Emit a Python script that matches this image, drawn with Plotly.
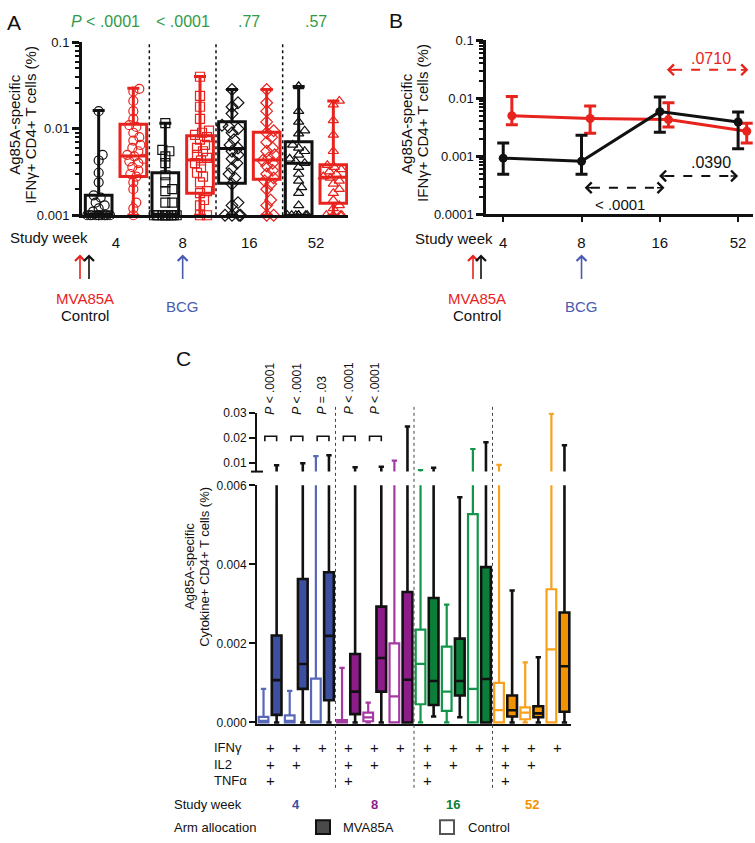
import math
import plotly.graph_objects as go

W, H = 755, 843
def px(x): return x / W
def py(y): return 1 - y / H

FONT = "Liberation Sans, Arial, Helvetica, sans-serif"
RED = "#e8231e"
BLACK = "#111111"
GREENP = "#2f9a4a"
BLUE_LBL = "#4a5ab0"

# ---------------- Panel A data ----------------
weeks = ["4", "8", "16", "52"]
a_pvalues = ["<i>P</i> < .0001", "< .0001", ".77", ".57"]

a_ctrl_w4 = [0.1, 0.016, 0.005, 0.0043, 0.0031, 0.0024, 0.0017, 0.0016, 0.0014, 0.0013,
             0.0012, 0.0011, 0.001, 0.001, 0.001, 0.001, 0.001, 0.001, 0.001, 0.001,
             0.001, 0.001, 0.001, 0.001]
a_ctrl_w8 = [0.1, 0.1, 0.0116, 0.0057, 0.0055, 0.0048, 0.004, 0.0029, 0.0024, 0.002,
             0.0019, 0.0014, 0.0014, 0.001, 0.001, 0.001, 0.001, 0.001, 0.001, 0.001,
             0.001, 0.001, 0.001, 0.001, 0.001]
a_ctrl_w16 = [0.0285, 0.02, 0.018, 0.015, 0.011, 0.0105, 0.01, 0.009, 0.0075, 0.0065,
              0.006, 0.0055, 0.005, 0.0045, 0.004, 0.0035, 0.003, 0.0027, 0.0023, 0.0014,
              0.0013, 0.001, 0.001, 0.001, 0.001]
a_ctrl_w52 = [0.031, 0.016, 0.012, 0.0095, 0.0088, 0.0065, 0.006, 0.0055, 0.005, 0.0045,
              0.0042, 0.004, 0.0036, 0.003, 0.0025, 0.0021, 0.0018, 0.0013, 0.001, 0.001,
              0.001, 0.001, 0.001, 0.001, 0.001]
a_mva_w4 = [0.029, 0.027, 0.021, 0.016, 0.013, 0.011, 0.0105, 0.009, 0.008, 0.0073,
            0.0065, 0.006, 0.0055, 0.005, 0.0048, 0.0045, 0.0042, 0.004, 0.0036, 0.0033,
            0.003, 0.0028, 0.0024, 0.002, 0.0014, 0.0012, 0.001]
a_mva_w8 = [0.04, 0.024, 0.018, 0.013, 0.0095, 0.009, 0.0085, 0.008, 0.0075, 0.0065,
            0.006, 0.0055, 0.005, 0.0046, 0.0043, 0.004, 0.0036, 0.0031, 0.0028, 0.0024,
            0.0019, 0.0018, 0.0015, 0.0013, 0.001, 0.001]
a_mva_w16 = [0.0285, 0.02, 0.016, 0.012, 0.0095, 0.009, 0.008, 0.007, 0.006, 0.0055,
             0.005, 0.0046, 0.0043, 0.004, 0.0037, 0.0033, 0.003, 0.0027, 0.0025, 0.0023,
             0.002, 0.0015, 0.0013, 0.001, 0.001]
a_mva_w52 = [0.021, 0.019, 0.0125, 0.0085, 0.0055, 0.0038, 0.0036, 0.0034, 0.0032, 0.003,
             0.0028, 0.0027, 0.0025, 0.0023, 0.002, 0.0018, 0.0015, 0.0013, 0.0012, 0.001,
             0.001, 0.001, 0.001]

a_ctrl_q1 = [0.001, 0.001, 0.00235, 0.001]
a_ctrl_med = [0.00102, 0.00102, 0.0059, 0.004]
a_ctrl_q3 = [0.0017, 0.0031, 0.0121, 0.0071]
a_ctrl_lo = [0.001, 0.001, 0.001, 0.001]
a_ctrl_hi = [0.0163, 0.0116, 0.0285, 0.0308]
a_mva_q1 = [0.0028, 0.0018, 0.0026, 0.00138]
a_mva_med = [0.00485, 0.00436, 0.00436, 0.00275]
a_mva_q3 = [0.0113, 0.0083, 0.0091, 0.00383]
a_mva_lo = [0.001, 0.001, 0.001, 0.001]
a_mva_hi = [0.0295, 0.0403, 0.0285, 0.021]
a_symbols = ["circle-open", "square-open", "diamond-open", "triangle-up-open"]

# ---------------- Panel B data ----------------
b_mva_med = [0.005, 0.0045, 0.0043, 0.0027]
b_mva_lo = [0.0035, 0.0025, 0.0032, 0.0017]
b_mva_hi = [0.0108, 0.0074, 0.0084, 0.0037]
b_ctrl_med = [0.00093, 0.00082, 0.0059, 0.0039]
b_ctrl_lo = [0.00049, 0.00049, 0.0026, 0.00135]
b_ctrl_hi = [0.0017, 0.0023, 0.0105, 0.0058]

# ---------------- Panel C data ----------------
# order per week: [ctrl c1, MVA c1, ctrl c2, MVA c2, ctrl c3, MVA c3]
c_lower = [0, 0, 0, 0, 0, 0,
           0, 0, 0, 0, 0, 0,
           0, 0.00015, 0, 0.00013, 0, 0,
           0, 0, 0, 0, 0, 0]
c_q1 = [0, 0.00019, 0, 0.00085, 0, 0.00056,
        0, 0.00021, 0.00003, 0.00078, 0, 0,
        0.00046, 0.00044, 0.00029, 0.00068, 0, 0,
        0, 0.00015, 0.00008, 0.00013, 0, 0.00027]
c_median = [0.00004, 0.00107, 0.00004, 0.00148, 0.00001, 0.00219,
            0.00001, 0.00078, 0.00013, 0.00163, 0.00066, 0.00108,
            0.00148, 0.00105, 0.00078, 0.00105, 0.00085, 0.0011,
            0.00031, 0.00031, 0.00025, 0.00023, 0.00185, 0.00142]
c_q3 = [0.00014, 0.0022, 0.00018, 0.00363, 0.00111, 0.0038,
        0.00006, 0.00173, 0.00025, 0.00293, 0.002, 0.0033,
        0.00235, 0.00315, 0.00192, 0.00212, 0.00527, 0.00393,
        0.001, 0.00068, 0.00038, 0.00041, 0.00337, 0.00278]
c_upper = [0.00085, 0.0090, 0.0008, 0.0098, 0.0127, 0.013,
           0.00138, 0.0082, 0.0005, 0.0084, 0.0109, 0.0245,
           0.0071, 0.0080, 0.00298, 0.0057, 0.0155, 0.0182,
           0.0092, 0.00334, 0.00152, 0.00165, 0.0296, 0.017]
c_weeks = ["4", "8", "16", "52"]
c_fill = ["#3d4fa0", "#8b1c88", "#0b7f3a", "#f39200"]
c_outline = ["#5868b9", "#a43aa1", "#12954a", "#f7a11c"]
c_pvalues = ["<i>P</i> < .0001", "<i>P</i> < .0001", "<i>P</i> = .03",
             "<i>P</i> < .0001", "<i>P</i> < .0001"]
c_pval_pairs = [0, 1, 2, 3, 4]
c_rows = ["IFNγ", "IL2", "TNFα"]
c_combo_marks = [["+", "+", "+"], ["+", "+", ""], ["+", "", ""]]  # per combo: IFN, IL2, TNF


def swarm(vals, ppu, ppd, d=6.5, cap=0.17):
    order = sorted(range(len(vals)), key=lambda k: vals[k])
    placed = []
    offs = [0.0] * len(vals)
    lim = cap * ppu
    for k in order:
        yp = math.log10(vals[k]) * ppd
        chosen = None
        for s in range(0, 40):
            cands = [0.0] if s == 0 else [s * 1.0, -s * 1.0]
            for xo in cands:
                if abs(xo) > lim:
                    continue
                if all((xo - a) ** 2 + (yp - b) ** 2 >= d * d for a, b in placed):
                    chosen = xo
                    break
            if chosen is not None:
                break
        if chosen is None:
            chosen = lim if len(placed) % 2 else -lim
            chosen = chosen * ((len(placed) % 5) / 4.0)
        placed.append((chosen, yp))
        offs[k] = chosen / ppu
    return offs


fig = go.Figure()

# ---------- Panel A ----------
A_OFF = 0.26
for arm, (q1, med, q3, lo, hi, col, off) in enumerate([
        (a_ctrl_q1, a_ctrl_med, a_ctrl_q3, a_ctrl_lo, a_ctrl_hi, BLACK, -A_OFF),
        (a_mva_q1, a_mva_med, a_mva_q3, a_mva_lo, a_mva_hi, RED, A_OFF)]):
    fig.add_trace(go.Box(
        x=[i + off for i in range(4)], q1=q1, median=med, q3=q3,
        lowerfence=lo, upperfence=hi, width=0.4, whiskerwidth=0.45,
        boxpoints=False, line=dict(color=col, width=3),
        fillcolor="rgba(0,0,0,0)", xaxis="x", yaxis="y", hoverinfo="skip"))

groups = [(a_ctrl_w4, a_ctrl_w8, a_ctrl_w16, a_ctrl_w52), (a_mva_w4, a_mva_w8, a_mva_w16, a_mva_w52)]
for arm, grp in enumerate(groups):
    col = BLACK if arm == 0 else RED
    off = -A_OFF if arm == 0 else A_OFF
    for i, vals in enumerate(grp):
        offs = swarm(vals, 66.7, 88.0)
        fig.add_trace(go.Scatter(
            x=[i + off + o for o in offs], y=vals, mode="markers",
            marker=dict(symbol=a_symbols[i], size=9, color=col, line=dict(width=1.2, color=col)),
            cliponaxis=False, xaxis="x", yaxis="y", hoverinfo="skip"))

# ---------- Panel B ----------
B_OFF = 0.11
for med, lo, hi, col, off in [(b_mva_med, b_mva_lo, b_mva_hi, RED, B_OFF),
                              (b_ctrl_med, b_ctrl_lo, b_ctrl_hi, BLACK, 0.0)]:
    fig.add_trace(go.Scatter(
        x=[i + off for i in range(4)], y=med, mode="lines+markers",
        line=dict(color=col, width=3), marker=dict(size=9, color=col),
        error_y=dict(type="data", symmetric=False,
                     array=[h - m for h, m in zip(hi, med)],
                     arrayminus=[m - l for m, l in zip(med, lo)],
                     color=col, thickness=3, width=6),
        cliponaxis=False, xaxis="x2", yaxis="y2", hoverinfo="skip"))

# ---------- Panel C ----------
C_W = 0.74
for ya in ["y3", "y4"]:
    for w in range(4):
        for arm in (0, 1):
            idx = [w * 6 + c * 2 + arm for c in range(3)]
            if arm == 0:
                line = dict(color=c_outline[w], width=2.2)
                fill = "white"
            else:
                line = dict(color=BLACK, width=2.6)
                fill = c_fill[w]
            fig.add_trace(go.Box(
                x=idx, q1=[c_q1[k] for k in idx], median=[c_median[k] for k in idx],
                q3=[c_q3[k] for k in idx], lowerfence=[c_lower[k] for k in idx],
                upperfence=[c_upper[k] for k in idx], width=C_W, whiskerwidth=0.55,
                boxpoints=False, line=line, fillcolor=fill,
                xaxis="x3", yaxis=ya, hoverinfo="skip"))

ann = []
shapes = []

def A(x, y, text, size=13, color=BLACK, xanchor="center", yanchor="middle", xref="paper",
      yref="paper", angle=0, **kw):
    ann.append(dict(x=x, y=y, text=text, xref=xref, yref=yref, showarrow=False,
                    font=dict(family=FONT, size=size, color=color), xanchor=xanchor,
                    yanchor=yanchor, textangle=angle, **kw))

# Panel letters
A(px(5), py(16), "A", size=21, xanchor="left")
A(px(387), py(14), "B", size=21, xanchor="left")
A(px(183), py(358), "C", size=21)

# Panel A text
for i, p in enumerate(a_pvalues):
    A(i, py(15), p, size=16, color=GREENP, xref="x", xshift=-11 if i == 0 else 0)
A(px(15), py(120), "Ag85A-specific", size=15, angle=-90)
A(px(31), py(120), "IFNγ+ CD4+ T cells (%)", size=15, angle=-90)
A(px(8), py(235), "Study week", size=15, xanchor="left")
for i in range(3):
    shapes.append(dict(type="line", xref="x", yref="paper", x0=i + 0.5, x1=i + 0.5,
                       y0=py(212), y1=py(36), line=dict(color=BLACK, width=1.5, dash="dot")))

# Panel B text
A(px(407), py(118), "Ag85A-specific", size=15, angle=-90)
A(px(423), py(118), "IFNγ+ CD4+ T cells (%)", size=15, angle=-90)
A(px(413), py(236), "Study week", size=15, xanchor="left")

b_pvalues = [".0710", ".0390", "< .0001"]
b_arrows = [(2.09, 3.13, 64, 2.65, 52, RED), (1.99, 3.0, 172, 2.65, 158, BLACK),
            (1.04, 2.06, 184, 1.49, 201, BLACK)]
for p, (x0, x1, yy, tx, ty, col) in zip(b_pvalues, b_arrows):
    shapes.append(dict(type="line", xref="x2", yref="paper", x0=x0 + 0.08, x1=x1 - 0.08,
                       y0=py(yy), y1=py(yy), line=dict(color=col, width=2, dash="dash")))
    for xe, axp in [(x0, 9), (x1, -9)]:
        ann.append(dict(x=xe, y=py(yy), xref="x2", yref="paper", ax=axp, ay=0, text="",
                        showarrow=True, arrowhead=4, arrowsize=1.3, arrowwidth=1.6,
                        arrowcolor=col))
    A(tx, py(ty), p, size=16 if p.startswith(".") else 15, color=col, xref="x2")

# Arrows and vaccine labels below A and B
for (xr, xb, xblue_ref, xlab) in [(80, 89, "x", 85), (473, 481, "x2", 477)]:
    for xx, col in [(xr, RED), (xb, BLACK)]:
        ann.append(dict(x=px(xx), y=py(252), xref="paper", yref="paper", ax=0, ay=26,
                        text="", showarrow=True, arrowhead=4, arrowsize=1.2, arrowwidth=1.6,
                        arrowcolor=col))
    ann.append(dict(x=1, y=py(252), xref=xblue_ref, yref="paper", ax=0, ay=26, text="",
                    showarrow=True, arrowhead=4, arrowsize=1.2, arrowwidth=1.6,
                    arrowcolor=BLUE_LBL))
    A(px(xlab), py(297), "MVA85A", size=15, color=RED)
    A(px(xlab), py(314), "Control", size=15, color=BLACK)
    A(1, py(305), "BCG", size=15, color=BLUE_LBL, xref=xblue_ref)

# Panel C text
A(px(190), py(570), "Ag85A-specific", size=13, angle=-90)
A(px(205), py(570), "Cytokine+ CD4+ T cells (%)", size=13, angle=-90)
for p, pair in zip(c_pvalues, c_pval_pairs):
    A(2 * pair + 0.5, py(417), p, size=12, xref="x3", yanchor="bottom", angle=-90)
    x0, x1 = 2 * pair + 0.1, 2 * pair + 1.0
    shapes.append(dict(type="path", xref="x3", yref="paper",
                       path=f"M {x0},{py(442)} L {x0},{py(437)} L {x1},{py(437)} L {x1},{py(442)}",
                       line=dict(color=BLACK, width=1.6)))
row_y = [754, 771, 788]
for r, lab in enumerate(c_rows):
    A(px(212), py(row_y[r]), lab, size=13, xanchor="left")
for w in range(4):
    for c in range(3):
        for r in range(3):
            m = c_combo_marks[c][r]
            if m:
                A(w * 6 + c * 2 + 0.5, py(row_y[r]), m, size=15, xref="x3")
    A(w * 6 + 2.5, py(812), f"<b>{c_weeks[w]}</b>", size=13, color=c_fill[w], xref="x3")
A(px(172), py(812), "Study week", size=13, xanchor="left")
A(px(172), py(835), "Arm allocation", size=13, xanchor="left")
A(px(341), py(835), "MVA85A", size=13, xanchor="left")
A(px(466), py(835), "Control", size=13, xanchor="left")
shapes.append(dict(type="rect", xref="paper", yref="paper", x0=px(316), x1=px(330),
                   y0=py(842), y1=py(828), fillcolor="#4a4a4a", line=dict(color=BLACK, width=2)))
shapes.append(dict(type="rect", xref="paper", yref="paper", x0=px(440), x1=px(454),
                   y0=py(842), y1=py(828), fillcolor="white", line=dict(color="#555555", width=2)))
for s in (5.5, 11.5, 17.5):
    shapes.append(dict(type="line", xref="x3", yref="paper", x0=s, x1=s, y0=py(795), y1=py(406),
                       line=dict(color="#444444", width=1, dash="dot")))
# axis-break tick on the upper segment
shapes.append(dict(type="line", xref="paper", yref="paper", x0=px(251), x1=px(263),
                   y0=py(473), y1=py(473), line=dict(color=BLACK, width=2)))

axis_common = dict(showgrid=False, zeroline=False, linecolor=BLACK, color=BLACK,
                   tickfont=dict(family=FONT, size=13, color=BLACK))

fig.update_layout(
    width=W, height=H, margin=dict(l=0, r=0, t=0, b=0),
    paper_bgcolor="white", plot_bgcolor="white", showlegend=False, boxmode="overlay",
    font=dict(family=FONT, color=BLACK),
    xaxis=dict(axis_common, domain=[px(82), px(348)], range=[-0.51, 3.48], anchor="y",
               showline=True, linewidth=3, tickvals=[0, 1, 2, 3], ticktext=weeks, ticks="",
               tickfont=dict(family=FONT, size=15, color=BLACK), ticklabelstandoff=12),
    yaxis=dict(axis_common, type="log", domain=[py(212), py(36)], range=[-3, -1], anchor="x",
               showline=True, linewidth=3, tickvals=[0.001, 0.01, 0.1],
               ticktext=["0.001", "0.01", "0.1"], ticks="outside", ticklen=7, tickwidth=2.5,
               minor=dict(ticks="outside", ticklen=4, tickwidth=1.5, dtick="D1", tickcolor=BLACK)),
    xaxis2=dict(axis_common, domain=[px(486), px(753)], range=[-0.22, 3.19], anchor="y2",
                showline=True, linewidth=2.5, tickvals=[0, 1, 2, 3], ticktext=weeks,
                ticks="outside", ticklen=5, tickwidth=2,
                tickfont=dict(family=FONT, size=15, color=BLACK), ticklabelstandoff=8),
    yaxis2=dict(axis_common, type="log", domain=[py(211), py(34)], range=[-4, -1], anchor="x2",
                showline=True, linewidth=2.5, tickvals=[0.0001, 0.001, 0.01, 0.1],
                ticktext=["0.0001", "0.001", "0.01", "0.1"], ticks="outside", ticklen=7,
                tickwidth=2.5,
                minor=dict(ticks="outside", ticklen=4, tickwidth=1.5, dtick="D1", tickcolor=BLACK)),
    xaxis3=dict(axis_common, domain=[px(257), px(571)], range=[-0.5, 23.5], anchor="y3",
                showline=True, linewidth=2, ticks="", showticklabels=False),
    yaxis3=dict(axis_common, domain=[py(730), py(487)], range=[-0.00004, 0.006], anchor="x3",
                showline=True, linewidth=2, tickvals=[0, 0.002, 0.004, 0.006],
                ticktext=["0.000", "0.002", "0.004", "0.006"], ticks="outside", ticklen=6,
                tickwidth=2, tickfont=dict(family=FONT, size=12, color=BLACK)),
    yaxis4=dict(axis_common, domain=[py(473), py(413)], range=[0.0065, 0.03], anchor="x3",
                showline=True, linewidth=2, tickvals=[0.01, 0.02, 0.03],
                ticktext=["0.01", "0.02", "0.03"], ticks="outside", ticklen=6, tickwidth=2,
                tickfont=dict(family=FONT, size=12, color=BLACK)),
    annotations=ann, shapes=shapes,
)

fig.write_html("out.html", config={"displayModeBar": False},
               post_script="document.body.style.margin='0px';document.body.style.overflow='hidden';")
